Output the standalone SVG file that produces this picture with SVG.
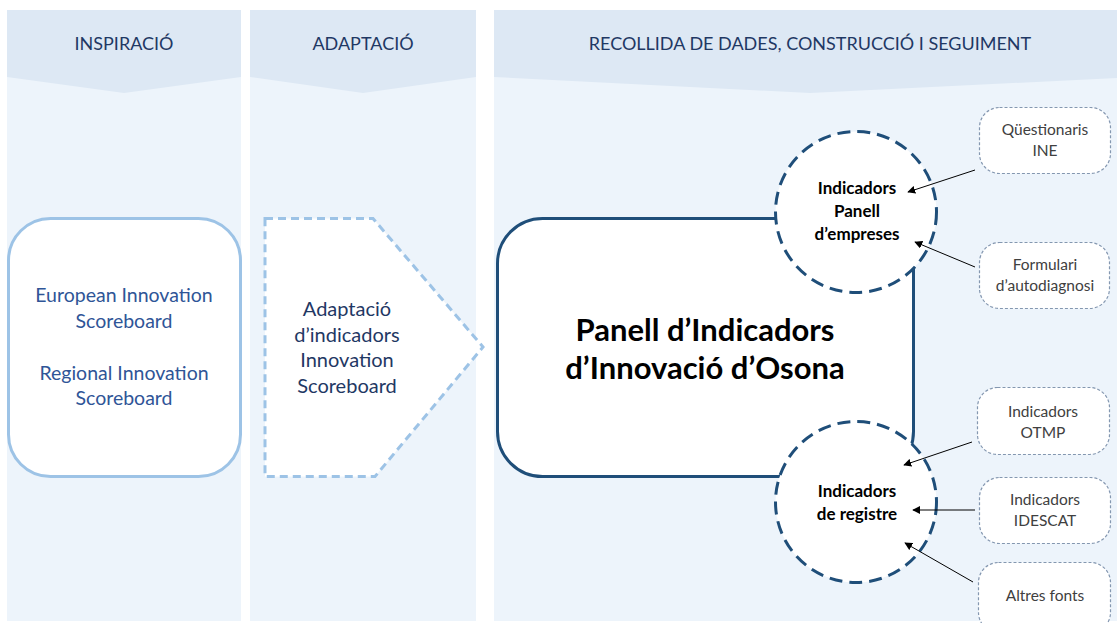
<svg xmlns="http://www.w3.org/2000/svg" width="1117" height="623" viewBox="0 0 1117 623">
<defs>
<style>
.colbg{fill:#edf4fb}
.hdr{fill:#dde8f4}
.htxt{font-family:Lato,"Open Sans",sans-serif;font-size:18px;fill:#1f3864;text-anchor:middle}
.blue{font-family:Lato,"Open Sans",sans-serif;font-size:19.5px;fill:#2f5597;text-anchor:middle}
.mid{font-family:Lato,"Open Sans",sans-serif;font-size:20px;fill:#1f3864;text-anchor:middle}
.big{font-family:Lato,"Open Sans",sans-serif;font-size:31px;font-weight:bold;fill:#000;text-anchor:middle}
.circ{fill:#fff;stroke:#1f4e79;stroke-width:3;stroke-dasharray:13 7}
.ctxt{font-family:Lato,"Open Sans",sans-serif;font-size:17px;font-weight:bold;fill:#000;text-anchor:middle}
.sbox{fill:#fff;stroke:#8497b0;stroke-width:1.2;stroke-dasharray:3 2}
.stxt{font-family:Lato,"Open Sans",sans-serif;font-size:15.5px;fill:#404040;text-anchor:middle}
.arr{stroke:#000;stroke-width:1;fill:none;marker-end:url(#ah)}
</style>
<marker id="ah" viewBox="0 0 10 10" refX="9" refY="5" markerWidth="8" markerHeight="8" markerUnits="userSpaceOnUse" orient="auto">
<path d="M0,0 L10,5 L0,10 z" fill="#000"/>
</marker>
</defs>
<rect width="1117" height="623" fill="#fff"/>
<g id="col-inspiracio">
<rect class="colbg" x="7" y="10" width="234" height="611"/>
<polygon class="hdr" points="7,10 241,10 241,77 124,93 7,77"/>
<text class="htxt" x="124" y="50">INSPIRACIÓ</text>
</g>
<g id="col-adaptacio">
<rect class="colbg" x="250" y="10" width="226" height="611"/>
<polygon class="hdr" points="250,10 476,10 476,77 363,93 250,77"/>
<text class="htxt" x="363" y="50">ADAPTACIÓ</text>
</g>
<g id="col-recollida">
<rect class="colbg" x="494" y="10" width="623" height="611"/>
<polygon class="hdr" points="494,10 1117,10 1117,78 810,93 494,77"/>
<text class="htxt" x="810" y="50">RECOLLIDA DE DADES, CONSTRUCCIÓ I SEGUIMENT</text>
</g>
<g id="node-inspiracio">
<rect x="8.5" y="218.5" width="232" height="258" rx="42" fill="#fff" stroke="#9dc3e6" stroke-width="3"/>
<text class="blue" x="124" y="302">European Innovation</text>
<text class="blue" x="124" y="328">Scoreboard</text>
<text class="blue" x="124" y="380">Regional Innovation</text>
<text class="blue" x="124" y="405">Scoreboard</text>
</g>
<g id="node-adaptacio">
<polygon points="265,218.5 373,218.5 483,347 375,476.5 265,476.5" fill="#fff" stroke="#9dc3e6" stroke-width="3" stroke-dasharray="8 5"/>
<text class="mid" x="347" y="316">Adaptació</text>
<text class="mid" x="347" y="342">d’indicadors</text>
<text class="mid" x="347" y="367">Innovation</text>
<text class="mid" x="347" y="393">Scoreboard</text>
</g>
<g id="node-panell">
<rect x="497.5" y="218.5" width="416" height="258" rx="45" fill="#fff" stroke="#1f4e79" stroke-width="3"/>
<text class="big" x="705" y="341">Panell d’Indicadors</text>
<text class="big" x="705" y="379">d’Innovació d’Osona</text>
</g>
<g id="node-empreses">
<circle class="circ" cx="856" cy="212" r="80.5"/>
<text class="ctxt" x="857" y="194">Indicadors</text>
<text class="ctxt" x="857" y="217">Panell</text>
<text class="ctxt" x="857" y="240">d’empreses</text>
</g>
<g id="node-registre">
<circle class="circ" cx="856" cy="502" r="80.5"/>
<text class="ctxt" x="857" y="497">Indicadors</text>
<text class="ctxt" x="857" y="520">de registre</text>
</g>
<g id="node-questionaris">
<rect class="sbox" x="979.5" y="107.5" width="131" height="66" rx="20"/>
<text class="stxt" x="1045" y="135">Qüestionaris</text>
<text class="stxt" x="1045" y="156">INE</text>
</g>
<g id="node-formulari">
<rect class="sbox" x="979.5" y="242.5" width="130" height="66" rx="20"/>
<text class="stxt" x="1045" y="270">Formulari</text>
<text class="stxt" x="1045" y="291">d’autodiagnosi</text>
</g>
<g id="node-otmp">
<rect class="sbox" x="977.5" y="387.5" width="132" height="67" rx="20"/>
<text class="stxt" x="1043" y="417">Indicadors</text>
<text class="stxt" x="1043" y="438">OTMP</text>
</g>
<g id="node-idescat">
<rect class="sbox" x="979.5" y="477.5" width="131" height="66" rx="20"/>
<text class="stxt" x="1045" y="505">Indicadors</text>
<text class="stxt" x="1045" y="526">IDESCAT</text>
</g>
<g id="node-altres">
<rect class="sbox" x="978.5" y="562.5" width="132" height="70" rx="20"/>
<text class="stxt" x="1045" y="601">Altres fonts</text>
</g>
<g id="connectors">
<line class="arr" x1="975" y1="170" x2="908" y2="192"/>
<line class="arr" x1="975" y1="267" x2="915" y2="242"/>
<line class="arr" x1="972" y1="442" x2="904" y2="465"/>
<line class="arr" x1="975" y1="510" x2="913" y2="510"/>
<line class="arr" x1="973" y1="582" x2="905" y2="543"/>
</g>
</svg>
